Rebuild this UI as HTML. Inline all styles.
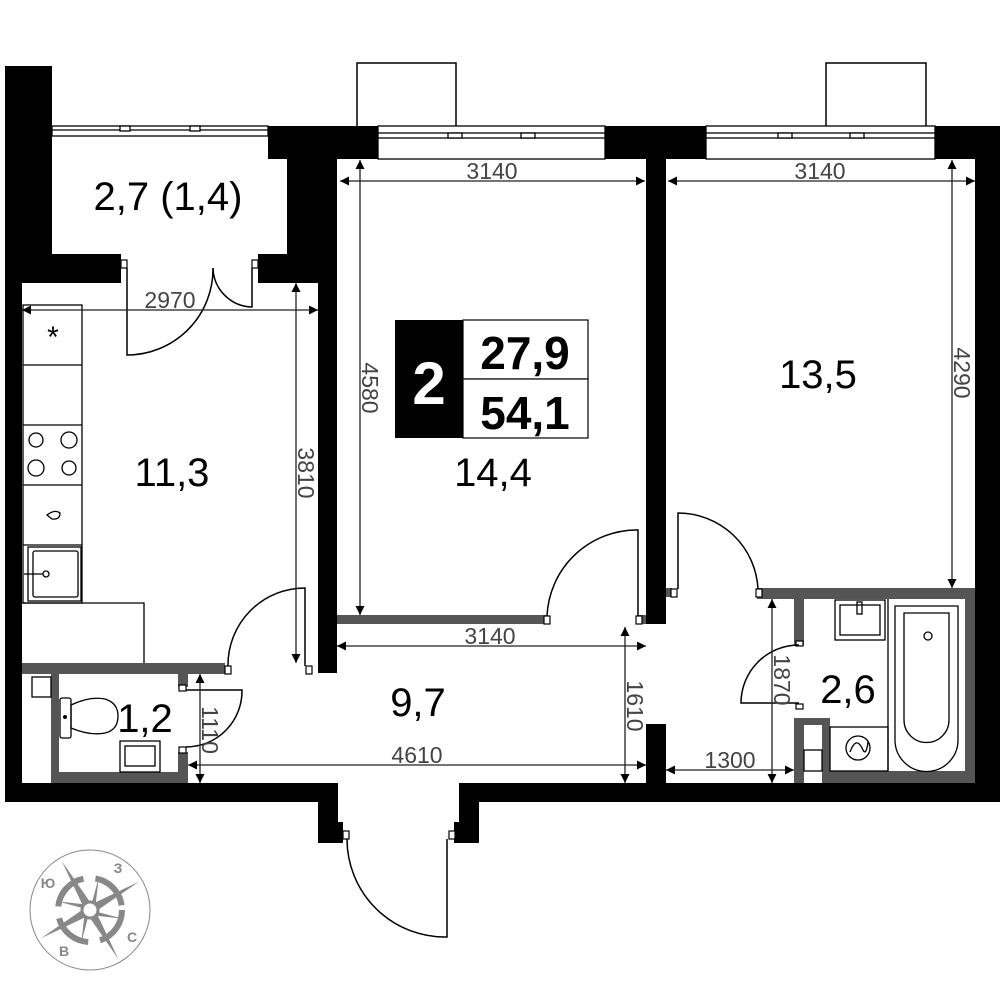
<!DOCTYPE html>
<html><head><meta charset="utf-8"><style>
html,body{margin:0;padding:0;background:#fff;}
svg{display:block;}
text{font-family:"Liberation Sans","DejaVu Sans",sans-serif;}
</style></head><body>
<svg width="1000" height="1000" viewBox="0 0 1000 1000" xmlns="http://www.w3.org/2000/svg">
<defs>
<marker id="a" viewBox="0 0 10 10" refX="10" refY="5" markerWidth="14" markerHeight="9" markerUnits="userSpaceOnUse" orient="auto-start-reverse"><path d="M0,0 L10,5 L0,10 z" fill="#000"/></marker>
</defs>
<g fill="none" stroke="#000" stroke-width="1.5">
<rect x="357" y="63" width="99" height="64"/>
<rect x="826" y="63" width="100" height="64"/>
</g>
<g fill="#fff" stroke="#000" stroke-width="1.3">
<rect x="52" y="126" width="216" height="10"/>
<line x1="52" y1="130" x2="268" y2="130"/>
<rect x="378" y="126" width="227" height="33"/>
<rect x="378" y="133" width="227" height="5"/>
<rect x="706" y="126" width="229" height="33"/>
<rect x="706" y="133" width="229" height="5"/>
<rect x="120" y="126" width="10" height="5"/><rect x="190" y="126" width="10" height="5"/>
<rect x="448" y="133" width="14" height="5"/><rect x="521" y="133" width="14" height="5"/>
<rect x="778" y="133" width="14" height="5"/><rect x="850" y="133" width="14" height="5"/>
</g>
<g fill="#000">
<rect x="5" y="66" width="47" height="217"/>
<rect x="5" y="283" width="17" height="519"/>
<rect x="52" y="254" width="69" height="29"/>
<rect x="258" y="254" width="29" height="29"/>
<rect x="268" y="126" width="110" height="33"/>
<rect x="287" y="159" width="50" height="124"/>
<rect x="318" y="283" width="19" height="390"/>
<rect x="605" y="126" width="101" height="33"/>
<rect x="646" y="159" width="20" height="465"/>
<rect x="646" y="724" width="20" height="59"/>
<rect x="935" y="126" width="65" height="33"/>
<rect x="975" y="159" width="25" height="643"/>
<rect x="5" y="783" width="333" height="19"/>
<rect x="318" y="802" width="20" height="41"/>
<rect x="338" y="822" width="5" height="21"/>
<rect x="479" y="783" width="521" height="19"/>
<rect x="459" y="783" width="20" height="60"/>
<rect x="454" y="822" width="5" height="21"/>
</g>
<g fill="#555">
<rect x="22" y="663" width="203" height="11"/>
<rect x="51" y="674" width="8" height="109"/>
<rect x="59" y="772" width="120" height="11"/>
<rect x="178" y="674" width="10" height="13"/>
<rect x="178" y="752" width="10" height="31"/>
<rect x="337" y="615" width="209" height="9"/>
<rect x="637" y="615" width="9" height="9"/>
<rect x="666" y="588" width="6" height="9"/>
<rect x="757" y="588" width="218" height="11"/>
<rect x="794" y="599" width="10" height="46"/>
<rect x="794" y="718" width="10" height="65"/>
<rect x="804" y="718" width="26" height="7"/>
<rect x="822" y="718" width="8" height="65"/>
<rect x="830" y="771" width="145" height="12"/>
<rect x="965" y="599" width="10" height="172"/>
</g>
<g fill="#fff" stroke="#000" stroke-width="1.2">
<rect x="121" y="260" width="6" height="8"/><rect x="252" y="260" width="6" height="8"/>
<rect x="225" y="666" width="6" height="8"/><rect x="306" y="666" width="6" height="8"/>
<rect x="179" y="685" width="7" height="6"/><rect x="179" y="747" width="7" height="6"/>
<rect x="544" y="616" width="6" height="8"/><rect x="636" y="616" width="6" height="8"/>
<rect x="671" y="589" width="6" height="8"/><rect x="756" y="589" width="6" height="8"/>
<rect x="796" y="641" width="7" height="5"/><rect x="796" y="704" width="7" height="5"/>
<rect x="343" y="831" width="6" height="8"/><rect x="449" y="831" width="6" height="8"/>
</g>
<g fill="none" stroke="#000" stroke-width="1.5">
<path d="M127,268 V355 A86,86 0 0 0 213,268"/>
<path d="M252,268 V307 A40,40 0 0 1 213,268"/>
<path d="M305,666 V588 A77,77 0 0 0 228,666"/>
<path d="M186,690 H242 A56,56 0 0 1 186,747"/>
<path d="M638,616 V530 A90,90 0 0 0 547,616"/>
<path d="M678,589 V513 A80,80 0 0 1 758,589"/>
<path d="M799,645 A58,58 0 0 0 741,703 H799"/>
<path d="M347,839 A98,98 0 0 0 447,937 V839"/>
</g>
<g fill="none" stroke="#000" stroke-width="1.3">
<rect x="23" y="305" width="59" height="298"/>
<line x1="23" y1="365" x2="82" y2="365"/>
<line x1="23" y1="425" x2="82" y2="425"/>
<line x1="23" y1="485" x2="82" y2="485"/>
<line x1="23" y1="545" x2="82" y2="545"/>
<polyline points="22,603 144,603 144,663"/>
<circle cx="36" cy="440" r="7"/><circle cx="69" cy="440" r="8"/>
<circle cx="36" cy="468" r="8"/><circle cx="69" cy="468" r="7"/>
<path d="M47,515 Q55,509 60,513 Q60,520 52,519 Z"/>
<rect x="28" y="547" width="53" height="54"/>
<rect x="33" y="551" width="45" height="46" rx="2"/>
<line x1="24" y1="574" x2="43" y2="574"/><circle cx="46" cy="574" r="3"/>
<rect x="32" y="677" width="19" height="20"/>
<rect x="60" y="698" width="11" height="40" rx="2"/>
<path d="M71,705 Q90,696 105,699 Q118,703 118,716 Q118,730 105,733 Q90,736 71,728 Z"/>
<rect x="120" y="741" width="40" height="31"/>
<rect x="125" y="746" width="30" height="20"/>
<rect x="835" y="600" width="50" height="40"/>
<rect x="840" y="605" width="40" height="30"/>
<rect x="857" y="602" width="5" height="12"/>
<rect x="830" y="727" width="58" height="44"/>
<line x1="888" y1="599" x2="888" y2="771"/>
<path d="M895,606 H958 V740 A31.5,31.5 0 0 1 895,740 Z"/>
<path d="M904,613 H949 V720 A22.5,22.5 0 0 1 904,720 Z"/>
<circle cx="928" cy="636" r="4"/>
<circle cx="858" cy="748" r="12"/>
<path d="M850,752 Q856,736 862,748 Q866,758 868,742"/>
<rect x="804" y="750" width="18" height="21"/>
</g>
<circle cx="65" cy="717" r="2" fill="#000"/>
<text x="53" y="347" font-size="30" text-anchor="middle" fill="#000">*</text>
<g stroke="#222" stroke-width="1.3" fill="none">
<line x1="340" y1="181" x2="645" y2="181" marker-start="url(#a)" marker-end="url(#a)"/>
<line x1="360" y1="160" x2="360" y2="615" marker-start="url(#a)" marker-end="url(#a)"/>
<line x1="668" y1="181" x2="975" y2="181" marker-start="url(#a)" marker-end="url(#a)"/>
<line x1="952" y1="160" x2="952" y2="588" marker-start="url(#a)" marker-end="url(#a)"/>
<line x1="22" y1="310" x2="318" y2="310" marker-start="url(#a)" marker-end="url(#a)"/>
<line x1="296" y1="283" x2="296" y2="663" marker-start="url(#a)" marker-end="url(#a)"/>
<line x1="337" y1="646" x2="646" y2="646" marker-start="url(#a)" marker-end="url(#a)"/>
<line x1="625" y1="627" x2="625" y2="783" marker-start="url(#a)" marker-end="url(#a)"/>
<line x1="188" y1="765" x2="646" y2="765" marker-start="url(#a)" marker-end="url(#a)"/>
<line x1="200" y1="674" x2="200" y2="783" marker-start="url(#a)" marker-end="url(#a)"/>
<line x1="772" y1="599" x2="772" y2="783" marker-start="url(#a)" marker-end="url(#a)"/>
<line x1="666" y1="770" x2="794" y2="770" marker-start="url(#a)" marker-end="url(#a)"/>
</g>
<g fill="#444" font-size="23">
<text x="492" y="179" text-anchor="middle">3140</text>
<text x="820" y="179" text-anchor="middle">3140</text>
<text x="170" y="308" text-anchor="middle">2970</text>
<text x="490" y="644" text-anchor="middle">3140</text>
<text x="417" y="763" text-anchor="middle">4610</text>
<text x="730" y="768" text-anchor="middle">1300</text>
<text transform="translate(362,388) rotate(90)" text-anchor="middle">4580</text>
<text transform="translate(954,373) rotate(90)" text-anchor="middle">4290</text>
<text transform="translate(298,473) rotate(90)" text-anchor="middle">3810</text>
<text transform="translate(627,706) rotate(90)" text-anchor="middle">1610</text>
<text transform="translate(202,730) rotate(90)" text-anchor="middle">1110</text>
<text transform="translate(774,680) rotate(90)" text-anchor="middle">1870</text>
</g>
<g fill="#000" font-size="40" text-anchor="middle">
<text x="168" y="210">2,7 (1,4)</text>
<text x="172" y="486">11,3</text>
<text x="493" y="486">14,4</text>
<text x="818" y="388">13,5</text>
<text x="418" y="716">9,7</text>
<text x="145" y="732">1,2</text>
<text x="848" y="703">2,6</text>
</g>
<rect x="395" y="320" width="68" height="118" fill="#000"/>
<rect x="463" y="320" width="125" height="59" fill="#fff" stroke="#000" stroke-width="1.2"/>
<rect x="463" y="379" width="125" height="59" fill="#fff" stroke="#000" stroke-width="1.2"/>
<text x="429" y="404" font-size="60" font-weight="bold" fill="#fff" text-anchor="middle">2</text>
<text x="525" y="369" font-size="46" font-weight="bold" fill="#000" text-anchor="middle">27,9</text>
<text x="525" y="429" font-size="46" font-weight="bold" fill="#000" text-anchor="middle">54,1</text>
<g transform="translate(90,910)">
<circle r="60" fill="none" stroke="#888" stroke-width="1"/>
<circle r="32" fill="none" stroke="#888" stroke-width="6" stroke-dasharray="40 12"/>
<g fill="#888">
<path d="M0,-6 L40,-40 L6,0 L40,40 L0,6 L-40,40 L-6,0 L-40,-40 Z" transform="rotate(15)"/>
<path d="M0,-5 L0,-34 L5,0 L34,0 L0,5 L0,34 L-5,0 L-34,0 Z" transform="rotate(15)"/>
</g>
<circle r="8" fill="#fff" stroke="#888" stroke-width="3"/>
<g fill="#888" font-size="14" font-weight="bold" text-anchor="middle">
<text x="-42" y="-22">Ю</text>
<text x="28" y="-37">З</text>
<text x="42" y="32">С</text>
<text x="-26" y="46">В</text>
</g>
</g>
</svg>
</body></html>
